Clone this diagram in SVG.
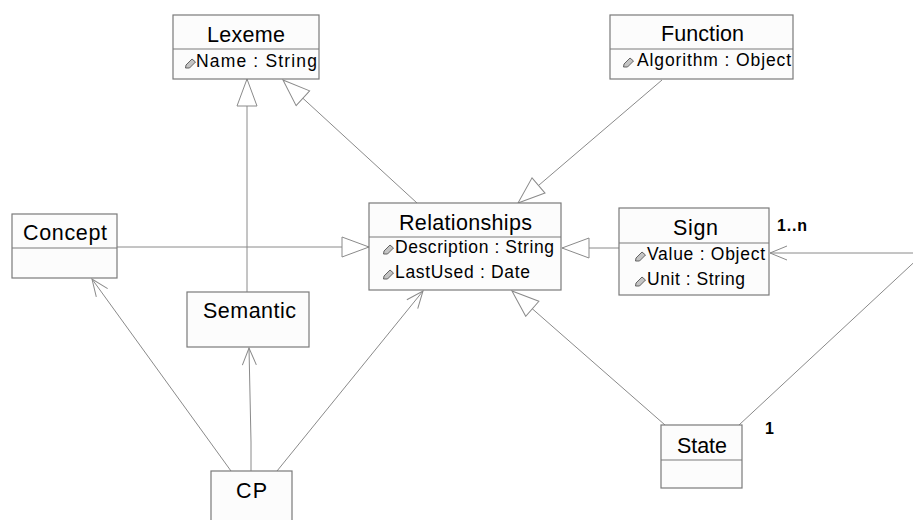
<svg xmlns="http://www.w3.org/2000/svg" width="913" height="520" viewBox="0 0 913 520">
<style>
.box{fill:#fcfcfc;stroke:#7a7a7a;stroke-width:1.2}
.sep{stroke:#7a7a7a;stroke-width:1.2}
.title{font-family:"Liberation Sans",Arial,sans-serif;font-size:21.5px;text-anchor:middle;fill:#000}
.attr{font-family:"Liberation Sans",Arial,sans-serif;font-size:17.5px;fill:#000}
.mult{font-family:"Liberation Sans",Arial,sans-serif;font-size:16px;font-weight:bold;fill:#000}
.conn{stroke:#8a8a8a;stroke-width:1;fill:none}
.gen{marker-end:url(#tri)}
.nav{marker-end:url(#open)}
</style>
<defs>
<marker id="tri" markerUnits="userSpaceOnUse" markerWidth="30" markerHeight="24" viewBox="-1 -1 30 24" refX="27" refY="10" orient="auto">
<path d="M27,10 L0,0 L0,20 Z" fill="#ffffff" stroke="#8a8a8a" stroke-width="1"/>
</marker>
<marker id="open" markerUnits="userSpaceOnUse" markerWidth="20" markerHeight="18" viewBox="-1 -1 20 18" refX="17" refY="8" orient="auto">
<path d="M0,1 L17,8 L0,15" fill="none" stroke="#8a8a8a" stroke-width="1"/>
</marker>
<path id="ico" d="M0.5,10 L1,7 L7,1 L10.5,4 L4.5,10 Z" fill="#c4c4c4" stroke="#555555" stroke-width="0.9"/>
</defs>

<g id="connectors">
<line class="conn gen" x1="247" y1="292" x2="247" y2="79"/>
<line class="conn gen" x1="417" y1="203" x2="283" y2="80"/>
<line class="conn gen" x1="662" y1="80" x2="518" y2="203"/>
<line class="conn gen" x1="117" y1="247" x2="369" y2="247"/>
<line class="conn gen" x1="619" y1="248" x2="562" y2="248"/>
<line class="conn gen" x1="665" y1="425" x2="512" y2="291"/>
<polyline class="conn nav" points="739,425 924,253 770,253"/>
<line class="conn nav" x1="231" y1="471" x2="92" y2="279"/>
<polyline class="conn nav" points="251,471 251,442 249,348"/>
<line class="conn nav" x1="277" y1="471" x2="423" y2="291"/>
</g>

<g id="Lexeme">
<rect class="box" x="173" y="15" width="146" height="64"/>
<line class="sep" x1="173" y1="49" x2="319" y2="49"/>
<text class="title" x="246" y="42" textLength="78">Lexeme</text>
<use href="#ico" x="185" y="58"/>
<text class="attr" x="196" y="67" textLength="121">Name : String</text>
</g>

<g id="Function">
<rect class="box" x="610" y="15" width="183" height="64"/>
<line class="sep" x1="610" y1="49" x2="793" y2="49"/>
<text class="title" x="702.5" y="41" textLength="83">Function</text>
<use href="#ico" x="623" y="57"/>
<text class="attr" x="637" y="66" textLength="154">Algorithm : Object</text>
</g>

<g id="Relationships">
<rect class="box" x="369" y="203" width="192" height="87"/>
<line class="sep" x1="369" y1="237" x2="561" y2="237"/>
<text class="title" x="465.5" y="230" textLength="133">Relationships</text>
<use href="#ico" x="383" y="244"/>
<text class="attr" x="395" y="253" textLength="159">Description : String</text>
<use href="#ico" x="383" y="269"/>
<text class="attr" x="395" y="278" textLength="135">LastUsed : Date</text>
</g>

<g id="Sign">
<rect class="box" x="619" y="208" width="150" height="87"/>
<line class="sep" x1="619" y1="243" x2="769" y2="243"/>
<text class="title" x="695.5" y="235" textLength="45">Sign</text>
<use href="#ico" x="635" y="251"/>
<text class="attr" x="647" y="260" textLength="118">Value : Object</text>
<use href="#ico" x="635" y="276"/>
<text class="attr" x="647" y="285" textLength="98">Unit : String</text>
</g>

<g id="Concept">
<rect class="box" x="12" y="214" width="105" height="64"/>
<line class="sep" x1="12" y1="248" x2="117" y2="248"/>
<text class="title" x="65" y="240" textLength="84">Concept</text>
</g>

<g id="Semantic">
<rect class="box" x="187" y="292" width="122" height="55"/>
<text class="title" x="249.5" y="318" textLength="93">Semantic</text>
</g>

<g id="CP">
<rect class="box" x="211" y="471" width="81" height="60"/>
<text class="title" x="251.5" y="498" textLength="31">CP</text>
</g>

<g id="State">
<rect class="box" x="661" y="425" width="81" height="63"/>
<line class="sep" x1="661" y1="460" x2="742" y2="460"/>
<text class="title" x="702" y="453" textLength="50">State</text>
</g>

<g id="labels">
<text class="mult" x="777" y="231" textLength="30">1..n</text>
<text class="mult" x="765" y="434">1</text>
</g>
</svg>
